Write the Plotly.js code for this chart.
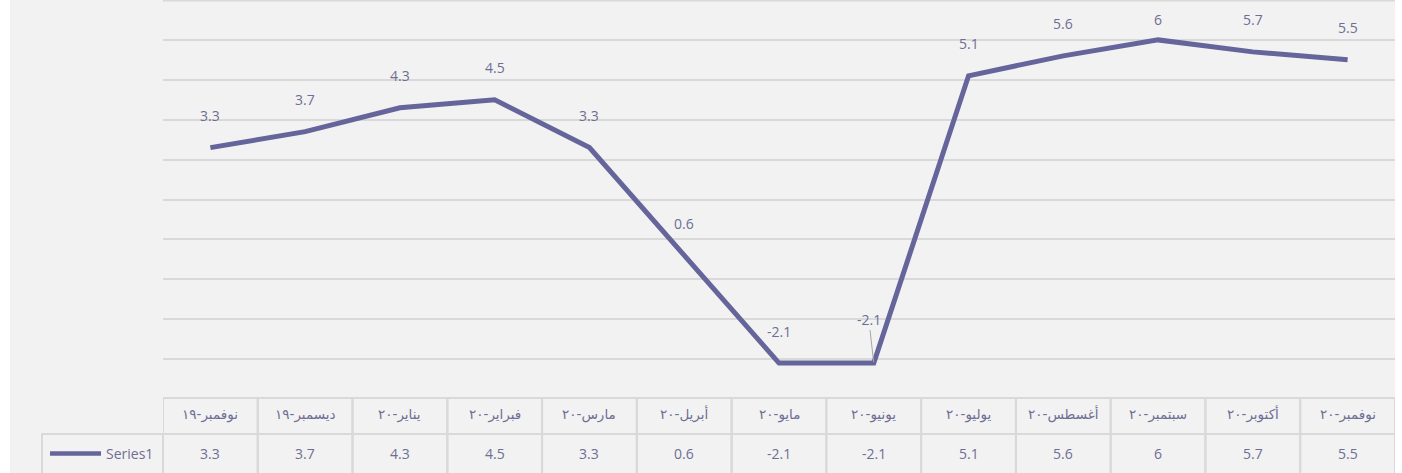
<!DOCTYPE html>
<html>
<head>
<meta charset="utf-8">
<script src="https://cdn.plot.ly/plotly-3.0.1.min.js"></script>
<style>html,body{margin:0;padding:0;background:#fff;}#chart{width:1402px;height:473px;}</style>
</head>
<body>
<div id="chart"></div>
<script>
var categories = ["نوفمبر-١٩","ديسمبر-١٩","يناير-٢٠","فبراير-٢٠","مارس-٢٠","أبريل-٢٠","مايو-٢٠","يونيو-٢٠","يوليو-٢٠","أغسطس-٢٠","سبتمبر-٢٠","أكتوبر-٢٠","نوفمبر-٢٠"];
var series1 = [3.3, 3.7, 4.3, 4.5, 3.3, 0.6, -2.1, -2.1, 5.1, 5.6, 6, 5.7, 5.5];
var seriesName = "Series1";

var W = 1402, H = 473;
var mL = 163, mR = 7, mT = 0, mB = 74;
var plotW = W - mL - mR, plotH = H - mT - mB;
function px(x) { return (x - mL) / plotW; }
function py(y) { return (H - mB - y) / plotH; }

var lineColor = "#65659b";
var textColor = "#6e6e94";
var borderColor = "#d9d9d9";
var font = {family: "Open Sans, Noto Sans, DejaVu Sans, sans-serif", size: 14, color: textColor};
var arFont = {family: "DejaVu Sans, Noto Sans, sans-serif", size: 13.5, color: textColor};

var shapes = [];
var annotations = [];

// top gridline at range edge
shapes.push({type: "line", xref: "paper", yref: "y", x0: 0, x1: 1, y0: 7, y1: 7, line: {color: borderColor, width: 3}, layer: "below"});

// white margins left and right
shapes.push({type: "rect", xref: "paper", yref: "paper", x0: px(0), x1: px(10), y0: py(H + 5), y1: py(-5), fillcolor: "#ffffff", line: {width: 0}, layer: "above"});
shapes.push({type: "rect", xref: "paper", yref: "paper", x0: px(1395), x1: px(W + 5), y0: py(H + 5), y1: py(-5), fillcolor: "#ffffff", line: {width: 0}, layer: "above"});

// data table
categories.forEach(function (c, i) {
  shapes.push({type: "rect", xref: "x", yref: "paper", x0: i - 0.5, x1: i + 0.5, y0: py(434), y1: py(398), line: {color: borderColor, width: 2}, fillcolor: "rgba(0,0,0,0)", layer: "above"});
  shapes.push({type: "rect", xref: "x", yref: "paper", x0: i - 0.5, x1: i + 0.5, y0: py(H + 4), y1: py(434), line: {color: borderColor, width: 2}, fillcolor: "rgba(0,0,0,0)", layer: "above"});
  annotations.push({x: c, y: py(414), xref: "x", yref: "paper", xanchor: "center", yanchor: "middle", text: c, showarrow: false, font: arFont});
  annotations.push({x: c, y: py(453), xref: "x", yref: "paper", xanchor: "center", yanchor: "middle", text: String(series1[i]), showarrow: false, font: font});
});
// legend cell
shapes.push({type: "rect", xref: "paper", yref: "paper", x0: px(42), x1: px(163), y0: py(H + 4), y1: py(434), line: {color: borderColor, width: 2}, fillcolor: "rgba(0,0,0,0)", layer: "above"});
shapes.push({type: "line", xref: "paper", yref: "paper", x0: px(50), x1: px(101), y0: py(453.5), y1: py(453.5), line: {color: lineColor, width: 4.5}, layer: "above"});
annotations.push({x: px(155), y: py(453), xref: "paper", yref: "paper", xanchor: "right", yanchor: "middle", text: seriesName, showarrow: false, font: font});

// data labels
var maxIdx = series1.indexOf(Math.max.apply(null, series1));
categories.forEach(function (c, i) {
  var a = {x: c, y: series1[i], xref: "x", yref: "y", xanchor: "center", yanchor: "middle", text: String(series1[i]), showarrow: false, font: font, yshift: 32};
  if (i === maxIdx) a.yshift = 20;
  if (i > 0 && series1[i] === series1[i - 1]) {
    a.showarrow = true; a.arrowhead = 0; a.arrowwidth = 1; a.arrowcolor = "#a6a6a6";
    a.ax = -5; a.ay = -44; a.yshift = 0; a.standoff = 1;
  }
  annotations.push(a);
});

var trace = {
  x: categories, y: series1, type: "scatter", mode: "lines", name: seriesName,
  line: {color: lineColor, width: 5}, hoverinfo: "x+y"
};

var layout = {
  width: W, height: H,
  margin: {l: mL, r: mR, t: mT, b: mB, pad: 0},
  paper_bgcolor: "#f2f2f2", plot_bgcolor: "#f2f2f2",
  showlegend: false,
  xaxis: {type: "category", range: [-0.5, categories.length - 0.5], showgrid: false, showticklabels: false, zeroline: false, showline: false, ticks: ""},
  yaxis: {range: [-3, 7], dtick: 1, showgrid: true, gridcolor: borderColor, gridwidth: 2, showticklabels: false, zeroline: false, showline: false, ticks: ""},
  shapes: shapes,
  annotations: annotations,
  font: font
};

Plotly.newPlot("chart", [trace], layout, {displayModeBar: false, staticPlot: true});
</script>
</body>
</html>
